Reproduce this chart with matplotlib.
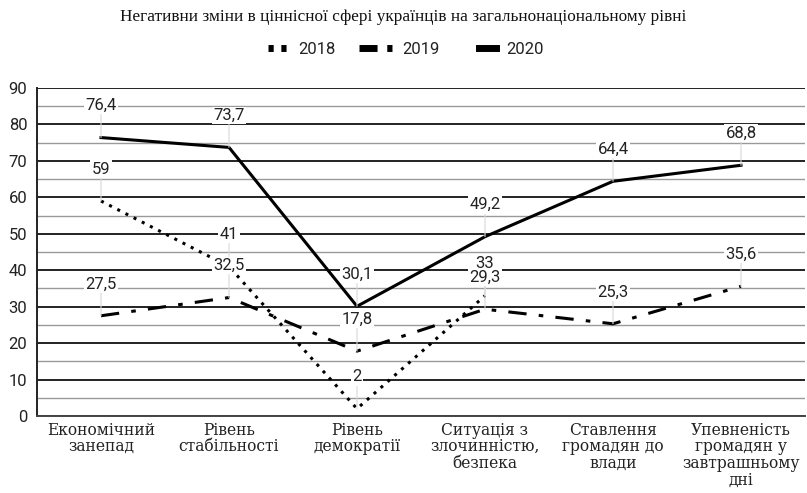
import numpy as np
import matplotlib.pyplot as plt
from matplotlib.ticker import MultipleLocator
from matplotlib.lines import Line2D
from matplotlib.legend_handler import HandlerLine2D

categories = ["Економічний\nзанепад", "Рівень\nстабільності", "Рівень\nдемократії",
              "Ситуація з\nзлочинністю,\nбезпека", "Ставлення\nгромадян до\nвлади",
              "Упевненість\nгромадян у\nзавтрашньому\nдні"]
years = ["2018", "2019", "2020"]
y2018 = [59, 41, 2, 33, np.nan, np.nan]
y2019 = [27.5, 32.5, 17.8, 29.3, 25.3, 35.6]
y2020 = [76.4, 73.7, 30.1, 49.2, 64.4, 68.8]

title = "Негативни зміни в ціннісної сфері українців на загальнонаціональному рівні"


class ShortHandler(HandlerLine2D):
    """legend handle shortened to a fraction of handlelength, kept next to the text"""
    def __init__(self, frac, **kw):
        super().__init__(**kw)
        self.frac = frac

    def create_artists(self, legend, orig_handle, xdescent, ydescent, width, height, fontsize, trans):
        return super().create_artists(legend, orig_handle, xdescent - width * (1 - self.frac),
                                      ydescent, width * self.frac, height, fontsize, trans)


fig = plt.figure(figsize=(8.07, 4.93), dpi=100)
ax = fig.add_axes([37 / 807, 1 - 416 / 493, 768 / 807, 328 / 493])

x = np.arange(len(categories))
styles = [(0, (1, 2)), (0, (6, 4, 1.5, 4)), '-']
for series, ls, yr in zip((y2018, y2019, y2020), styles, years):
    ax.plot(x, series, color='black', lw=2.2, linestyle=ls, label=yr)

def fmt(v):
    s = ("%.1f" % v).replace('.', ',')
    return s[:-2] if s.endswith(',0') else s

for series in (y2018, y2019, y2020):
    for xi, v in zip(x, series):
        if np.isnan(v):
            continue
        ax.annotate(fmt(v), xy=(xi, v), xytext=(0, 23), textcoords='offset points',
                    ha='center', va='center', fontsize=12, family='Roboto', color='#222222',
                    bbox=dict(boxstyle='square,pad=0.08', fc='white', ec='none'),
                    arrowprops=dict(arrowstyle='-', color='#d8d8d8', lw=0.8,
                                    shrinkA=0, shrinkB=0))

ax.set_xlim(-0.5, 5.5)
ax.set_ylim(0, 90)
ax.yaxis.set_major_locator(MultipleLocator(10))
ax.yaxis.set_minor_locator(MultipleLocator(5))
ax.grid(axis='y', which='major', color='#222222', lw=1.4, zorder=0)
ax.grid(axis='y', which='minor', color='#9a9a9a', lw=1.0, zorder=0)
ax.set_axisbelow(True)
ax.tick_params(axis='y', which='both', length=0, labelsize=12, pad=7, labelcolor='#222222')
ax.tick_params(axis='x', length=0, pad=4)
for lab in ax.get_yticklabels():
    lab.set_family('Roboto')
ax.set_xticks(x)
ax.set_xticklabels(categories, family='DejaVu Serif', fontsize=11.2,
                   linespacing=0.98, color='#222222')
for s in ('top', 'right'):
    ax.spines[s].set_visible(False)
ax.spines['left'].set_color('#222222')
ax.spines['left'].set_linewidth(1.4)
ax.spines['bottom'].set_color('#444444')
ax.spines['bottom'].set_linewidth(1.4)

fig.text(0.5, 1 - 17 / 493, title, ha='center', va='center', family='Liberation Serif',
         fontsize=12.4, color='#111111')

# legend proxies: thick short dashes and squares like the original
h18 = Line2D([], [], color='black', lw=5, linestyle=(0, (0.75, 1.1)))
h19 = Line2D([], [], color='black', lw=5, linestyle=(0, (2.6, 1.4, 0.75, 5)))
h20 = Line2D([], [], color='black', lw=5, linestyle='-')
fig.legend(handles=[h18, h19, h20], labels=years, loc='center', bbox_to_anchor=(0.495, 1 - 49 / 493),
           ncol=3, frameon=False, prop={'family': 'Roboto', 'size': 12}, labelcolor='#222222',
           handlelength=2.0, columnspacing=1.4, handletextpad=0.6,
           handler_map={h18: ShortHandler(0.6), h19: ShortHandler(1.0), h20: ShortHandler(0.52)})

fig.savefig('out.png', dpi=100)
